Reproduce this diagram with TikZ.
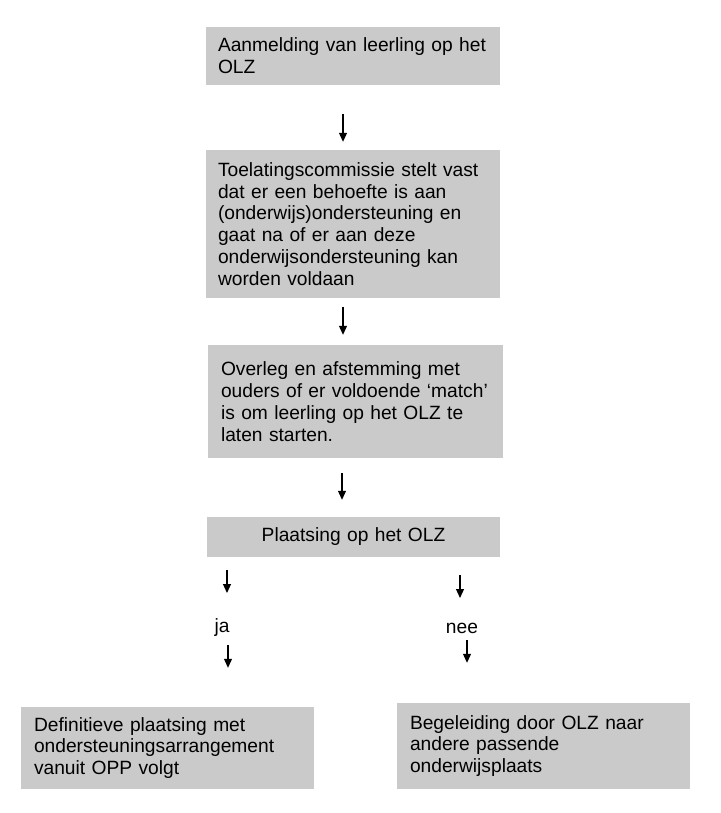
\documentclass[tikz,border=0pt]{standalone}
\usepackage{fontspec}
\setmainfont{Liberation Sans}
\usetikzlibrary{arrows.meta}
\definecolor{boxgray}{HTML}{CACACA}
\begin{document}
\begin{tikzpicture}[x=1pt, y=-1pt]

    \tikzstyle{stepnode} = [fill=boxgray, inner xsep=12pt, inner ysep=0pt, align=left,
        font=\fontsize{19.2}{21.8}\selectfont];
    \tikzstyle{choicenode} = [inner sep=0pt, font=\fontsize{19.2}{21.8}\selectfont];
    \tikzstyle{arrow} = [line width=1.1pt, -{Triangle[width=8pt, length=9pt]}];

    \useasboundingbox (0,0) rectangle (720,813);

    % Top - Steps
    \node[stepnode, text width=270pt, minimum height=58pt] (AANM) at (353,56)
        {Aanmelding van leerling op het\\OLZ};

    \node[stepnode, text width=270pt, minimum height=148pt] (TOEL) at (353,224)
        {Toelatingscommissie stelt vast\\dat er een behoefte is aan\\(onderwijs)ondersteuning en\\gaat na of er aan deze\\onderwijsondersteuning kan\\worden voldaan};

    \node[stepnode, inner xsep=13pt, text width=269pt, minimum height=113pt] (OVERL) at (355.5,401.5)
        {Overleg en afstemming met\\ouders of er voldoende ‘match’\\is om leerling op het OLZ te\\laten starten.};

    \node[stepnode, align=center, text width=269pt, minimum height=40pt] (PLAATS) at (353.5,537)
        {Plaatsing op het OLZ};

    \draw [arrow] ([xshift=-10pt, yshift=-29pt]AANM.south) -- ([xshift=-10pt, yshift=8pt]TOEL.north);
    \draw [arrow] ([xshift=-10pt, yshift=-9pt]TOEL.south) -- ([xshift=-12.5pt, yshift=10pt]OVERL.north);
    \draw [arrow] ([xshift=-13.5pt, yshift=-15pt]OVERL.south) -- ([xshift=-11.5pt, yshift=17pt]PLAATS.north);
    % Top - Steps

    % Bottom - Choice
    \node[choicenode] (JA) at (222,628) {ja};
    \node[choicenode] (NEE) at (462,628) {nee};

    \node[stepnode, inner xsep=13pt, text width=267pt, minimum height=82pt] (DEFIN) at (167.5,748)
        {Definitieve plaatsing met\\ondersteuningsarrangement\\vanuit OPP volgt};

    \node[stepnode, inner xsep=13pt, text width=267pt, minimum height=86pt] (BEGEL) at (543.5,746)
        {Begeleiding door OLZ naar\\andere passende\\onderwijsplaats};

    \draw [arrow] ([xshift=-126.5pt, yshift=-13pt]PLAATS.south) -- ([xshift=5pt, yshift=35pt]JA.center);
    \draw [arrow] ([xshift=6pt, yshift=-17pt]JA.center) -- ([xshift=60.5pt, yshift=39pt]DEFIN.north);

    \draw [arrow] ([xshift=106.5pt, yshift=-18pt]PLAATS.south) -- ([xshift=-2pt, yshift=30pt]NEE.center);
    \draw [arrow] ([xshift=5pt, yshift=-12pt]NEE.center) -- ([xshift=-76.5pt, yshift=40pt]BEGEL.north);
    % Bottom - Choice

\end{tikzpicture}
\end{document}
